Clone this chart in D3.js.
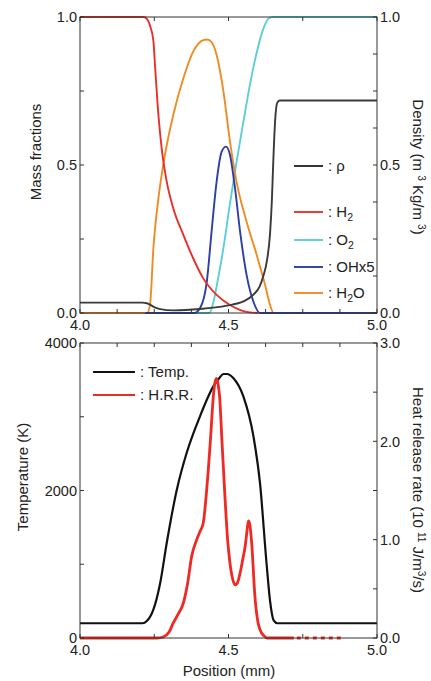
<!DOCTYPE html>
<html><head><meta charset="utf-8">
<script src="https://cdn.jsdelivr.net/npm/d3@7"></script>
<style>
html,body{margin:0;padding:0;background:#fff;}
text{font-family:"Liberation Sans",Arial,Helvetica,sans-serif;fill:#222;}
</style></head>
<body>
<svg id="chart" width="431" height="681"></svg>
<script>
// ---------- DATA ----------
// Top panel: mass fractions (left axis) and density (right axis)
const h2X  = [4.0,4.215,4.228,4.236,4.247,4.2525,4.264,4.275,4.292,4.314,4.348,4.381,4.415,4.46,4.505,4.54,4.572,4.6];
const h2Y  = [1,1,0.99,0.97,0.92,0.838,0.669,0.556,0.444,0.354,0.264,0.185,0.117,0.061,0.027,0.01,0.002,0];
const o2X  = [4.0,4.435,4.45,4.46,4.483,4.505,4.527,4.55,4.572,4.595,4.617,4.635,4.65,5.0];
const o2Y  = [0,0,0.04,0.09,0.22,0.37,0.51,0.645,0.77,0.88,0.96,0.995,1,1];
const h2oX = [4.0,4.226,4.236,4.247,4.264,4.286,4.314,4.348,4.381,4.415,4.428,4.443,4.46,4.483,4.505,4.527,4.561,4.595,4.623,4.64,4.652,4.72];
const h2oY = [0,0,0.03,0.218,0.387,0.534,0.669,0.793,0.883,0.922,0.924,0.915,0.872,0.748,0.579,0.444,0.308,0.196,0.095,0.027,0,0];
const ohX  = [4.22,4.385,4.404,4.427,4.443,4.46,4.477,4.4916,4.505,4.522,4.539,4.561,4.584,4.606,5.0];
const ohY  = [0,0,0.016,0.106,0.275,0.444,0.545,0.562,0.534,0.421,0.275,0.128,0.038,0,0];
const rhoX = [4.0,4.21,4.225,4.236,4.25,4.27,4.314,4.404,4.494,4.55,4.584,4.605,4.617,4.63,4.64,4.646,4.651,4.657,4.664,4.672,5.0];
const rhoY = [0.035,0.035,0.033,0.028,0.02,0.013,0.009,0.0135,0.025,0.039,0.062,0.09,0.124,0.18,0.27,0.38,0.518,0.65,0.71,0.718,0.718];

// Bottom panel: temperature (left axis) and heat release rate (right axis)
const tempX = [4.0,4.21,4.225,4.247,4.27,4.292,4.326,4.359,4.404,4.449,4.47,4.483,4.495,4.516,4.55,4.584,4.606,4.628,4.64,4.652,4.665,5.0];
const tempY = [200,200,230,384,746,1288,2011,2508,3006,3412,3530,3580,3580,3525,3277,2734,2102,1017,500,240,200,200];
const hrrX  = [4.0,4.26,4.28,4.3,4.314,4.33,4.348,4.362,4.376,4.393,4.405,4.415,4.425,4.432,4.44,4.449,4.456,4.46,4.465,4.47,4.478,4.488,4.497,4.505,4.514,4.522,4.53,4.539,4.548,4.556,4.562,4.567,4.572,4.578,4.589,4.598,4.606,4.62,4.63,4.72];
const hrrY  = [0,0,0.01,0.06,0.153,0.24,0.356,0.55,0.83,1.0,1.09,1.17,1.45,1.71,2.05,2.46,2.62,2.64,2.58,2.46,2.0,1.44,1.0,0.76,0.6,0.54,0.56,0.66,0.8,0.93,1.08,1.19,1.15,0.97,0.42,0.18,0.085,0.02,0,0];
const hrrTailX = [4.73,4.89];
const hrrTailY = [0,0];

// Ticks / labels
const xLabelTicks = [4.0,4.5,5.0];
const massLabelTicks = [0,0.5,1.0];
const densLabelTicks = [0,0.5,1.0];
const tempLabelTicks = [0,2000,4000];
const hrrLabelTicks = [0,1,2,3];

const topLegend = [
  {name:"ρ", sub:"", after:"", color:"#2b2b2b"},
  {name:"H", sub:"2", after:"", color:"#e8302a"},
  {name:"O", sub:"2", after:"", color:"#5ccfd6"},
  {name:"OHx5", sub:"", after:"", color:"#2b3fa6"},
  {name:"H", sub:"2", after:"O", color:"#f28a24"}
];
const botLegend = [
  {name:"Temp.", color:"#111"},
  {name:"H.R.R.", color:"#ee2a24"}
];

// ---------- LAYOUT ----------
const svg = d3.select("#chart");
const L = 80, R = 377;
const topT = 17, topB = 313, botT = 343, botB = 638;
const x = d3.scaleLinear().domain([4,5]).range([L,R]);
const yMass = d3.scaleLinear().domain([0,1]).range([topB,topT]);
const yDens = d3.scaleLinear().domain([0,1]).range([topB,topT]);
const yTemp = d3.scaleLinear().domain([0,4000]).range([botB,botT]);
const yHrr  = d3.scaleLinear().domain([0,3]).range([botB,botT]);
const frameColor = "#333";
const TL = 4;

function zip(xs, ys){ return xs.map((v,i)=>[v,ys[i]]); }

function drawLine(g, xs, ys, ysc, color, w, dash){
  const line = d3.line().x(d=>x(d[0])).y(d=>ysc(d[1])).curve(d3.curveMonotoneX);
  g.append("path").datum(zip(xs,ys)).attr("d",line)
   .attr("fill","none").attr("stroke",color).attr("stroke-width",w)
   .attr("stroke-linejoin","round").attr("stroke-dasharray",dash||null);
}

function ticksX(g, yPix, dir, step){
  d3.range(4, 5.0001, step).forEach(v=>{
    g.append("line").attr("x1",x(v)).attr("x2",x(v)).attr("y1",yPix).attr("y2",yPix+dir*TL)
     .attr("stroke",frameColor).attr("stroke-width",1);
  });
}
function ticksY(g, sc, xPix, dir, step){
  const [a,b] = sc.domain();
  d3.range(a, b+step*0.001, step).forEach(v=>{
    g.append("line").attr("x1",xPix).attr("x2",xPix+dir*TL).attr("y1",sc(v)).attr("y2",sc(v))
     .attr("stroke",frameColor).attr("stroke-width",1);
  });
}

const fmt1 = d3.format(".1f");
const fmtD = d3.format("d");

// ---------- TOP PANEL ----------
const gt = svg.append("g");
drawLine(gt, o2X, o2Y, yMass, "#5ccfd6", 1.9);
drawLine(gt, h2oX, h2oY, yMass, "#f28a24", 1.9);
drawLine(gt, ohX, ohY, yMass, "#2b3fa6", 1.9);
drawLine(gt, h2X, h2Y, yMass, "#e8302a", 1.9);
drawLine(gt, rhoX, rhoY, yDens, "#3a3a3a", 1.9);
gt.append("rect").attr("x",L).attr("y",topT).attr("width",R-L).attr("height",topB-topT)
  .attr("fill","none").attr("stroke",frameColor).attr("stroke-width",1);
ticksX(gt, topB, -1, 0.125);
ticksX(gt, topT, 1, 0.25);
ticksY(gt, yMass, L, 1, 0.25);
ticksY(gt, yDens, R, -1, 0.125);
gt.selectAll(".ml").data(massLabelTicks).enter().append("text")
  .attr("x",77).attr("y",d=>yMass(d)).attr("dy","0.36em").attr("text-anchor","end")
  .attr("font-size",14.5).text(d=>fmt1(d));
gt.selectAll(".dl").data(densLabelTicks).enter().append("text")
  .attr("x",380).attr("y",d=>yDens(d)).attr("dy","0.36em").attr("text-anchor","start")
  .attr("font-size",14.5).text(d=>fmt1(d));
gt.selectAll(".xl").data(xLabelTicks).enter().append("text")
  .attr("x",d=>x(d)).attr("y",330).attr("text-anchor","middle")
  .attr("font-size",14.5).text(d=>fmt1(d));
gt.append("text").attr("transform","translate(41,152) rotate(-90)")
  .attr("text-anchor","middle").attr("font-size",15).text("Mass fractions");
{
  const t = gt.append("text").attr("transform","translate(413,167) rotate(90)")
    .attr("text-anchor","middle").attr("font-size",15);
  t.append("tspan").text("Density (m  ");
  t.append("tspan").attr("font-size",10).attr("dy",-5).text("3");
  t.append("tspan").attr("dy",5).text(" Kg/m ");
  t.append("tspan").attr("font-size",10).attr("dy",-5).text("3");
  t.append("tspan").attr("dy",5).text(")");
}
const topLegY = [166,212,240,267,293];
topLegend.forEach((d,i)=>{
  const yy = topLegY[i];
  gt.append("line").attr("x1",294).attr("x2",323).attr("y1",yy).attr("y2",yy)
    .attr("stroke",d.color).attr("stroke-width",1.9);
  const t = gt.append("text").attr("x",328).attr("y",yy).attr("dy","0.36em").attr("font-size",15);
  t.append("tspan").text(": "+d.name);
  if(d.sub){
    t.append("tspan").attr("font-size",10.5).attr("dy",4).text(d.sub);
    if(d.after) t.append("tspan").attr("dy",-4).text(d.after);
  }
});

// ---------- BOTTOM PANEL ----------
const gb = svg.append("g");
drawLine(gb, tempX, tempY, yTemp, "#111", 2.2);
drawLine(gb, hrrX, hrrY, yHrr, "#ee2a24", 2.8);
drawLine(gb, hrrTailX, hrrTailY, yHrr, "#ee2a24", 2.8, "4,4");
gb.append("rect").attr("x",L).attr("y",botT).attr("width",R-L).attr("height",botB-botT)
  .attr("fill","none").attr("stroke",frameColor).attr("stroke-width",1);
ticksX(gb, botT, 1, 0.125);
ticksX(gb, botB, -1, 0.25);
ticksY(gb, yTemp, L, 1, 1000);
ticksY(gb, yHrr, R, -1, 0.5);
gb.selectAll(".tl").data(tempLabelTicks).enter().append("text")
  .attr("x",77).attr("y",d=>yTemp(d)).attr("dy","0.36em").attr("text-anchor","end")
  .attr("font-size",14.5).text(d=>fmtD(d));
gb.selectAll(".hl").data(hrrLabelTicks).enter().append("text")
  .attr("x",380).attr("y",d=>yHrr(d)).attr("dy","0.36em").attr("text-anchor","start")
  .attr("font-size",14.5).text(d=>fmt1(d));
gb.selectAll(".xl").data(xLabelTicks).enter().append("text")
  .attr("x",d=>x(d)).attr("y",655).attr("text-anchor","middle")
  .attr("font-size",14.5).text(d=>fmt1(d));
gb.append("text").attr("x",229).attr("y",676).attr("text-anchor","middle")
  .attr("font-size",15).text("Position (mm)");
gb.append("text").attr("transform","translate(28,477) rotate(-90)")
  .attr("text-anchor","middle").attr("font-size",15).text("Temperature (K)");
{
  const t = gb.append("text").attr("transform","translate(413,490) rotate(90)")
    .attr("text-anchor","middle").attr("font-size",15);
  t.append("tspan").text("Heat release rate (10 ");
  t.append("tspan").attr("font-size",10).attr("dy",-5).text("11");
  t.append("tspan").attr("dy",5).text(" J/m");
  t.append("tspan").attr("font-size",10).attr("dy",-5).text("3");
  t.append("tspan").attr("dy",5).text("/s)");
}
const botLegY = [372,395];
botLegend.forEach((d,i)=>{
  const yy = botLegY[i];
  gb.append("line").attr("x1",93).attr("x2",135).attr("y1",yy).attr("y2",yy)
    .attr("stroke",d.color).attr("stroke-width",2.2);
  gb.append("text").attr("x",140).attr("y",yy).attr("dy","0.36em").attr("font-size",15)
    .text(": "+d.name);
});
</script>
</body></html>
